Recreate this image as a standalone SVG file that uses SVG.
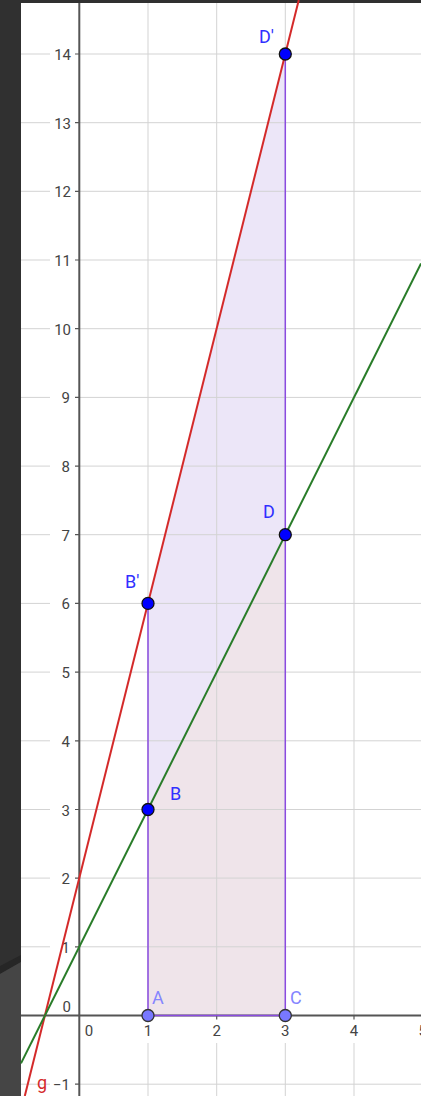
<svg xmlns="http://www.w3.org/2000/svg" width="421" height="1096" viewBox="0 0 421 1096">
<style>
.grid{stroke:#d3d3d3;stroke-width:1;fill:none}
.axis{stroke:#555;stroke-width:2;fill:none}
.tick{font-family:Roboto,"Liberation Sans",sans-serif;font-size:15px;fill:#444}
.ty{text-anchor:end}
.tx{text-anchor:middle}
.plbl{font-family:Roboto,"Liberation Sans",sans-serif;font-size:18px;fill:#3030ff}
.plbl2{font-family:Roboto,"Liberation Sans",sans-serif;font-size:18px;fill:#8585ff}
.pt{fill:#0000ff;stroke:#111;stroke-width:1.3}
.pt2{fill:#7878ff;stroke:#333;stroke-width:1.3}
.edge{stroke:#8a4be0;stroke-width:1.5;fill:none}
</style>
<rect x="0" y="0" width="421" height="1096" fill="#ffffff"/>
<g id="background">
<rect x="0" y="0" width="21" height="1096" fill="#303030"/>
<rect x="0" y="0" width="421" height="3" fill="#303030"/>
<polygon points="0,966 21,955 21,962 0,974" fill="#262626"/>
<polygon points="0,974 21,962 21,1096 0,1096" fill="#454545"/>
</g>
<g id="fills">
<polygon points="148,1015.5 285.3,1015.5 285.3,54 148,603.4" fill="#ece6f8"/>
<polygon points="148,1015.5 285.3,1015.5 285.3,534.7 148,809.5" fill="#efe4ea"/>
</g>
<g id="grid">
<path class="grid" d="M21,1084.2H50M21,946.8H50M79,946.8H421M21,878.1H50M79,878.1H421M21,809.5H50M79,809.5H421M21,740.8H50M79,740.8H421M21,672.1H50M79,672.1H421M21,603.4H50M79,603.4H421M21,534.7H50M79,534.7H421M21,466.1H50M79,466.1H421M21,397.4H50M79,397.4H421M21,328.7H50M79,328.7H421M21,260H50M79,260H421M21,191.3H50M79,191.3H421M21,122.7H50M79,122.7H421M21,54H50M79,54H421M79,1084.2H421"/>
<path class="grid" d="M148,3V1015M148,1043V1096M216.7,3V1015M216.7,1043V1096M285.3,3V1015M285.3,1043V1096M354,3V1015M354,1043V1096"/>
</g>
<g id="axes">
<path class="axis" d="M21,1015.5H421M79.3,3V1096"/>
<path d="M75,1084.2H79M75,946.8H79M75,878.1H79M75,809.5H79M75,740.8H79M75,672.1H79M75,603.4H79M75,534.7H79M75,466.1H79M75,397.4H79M75,328.7H79M75,260H79M75,191.3H79M75,122.7H79M75,54H79M148,1015.5V1019.5M216.7,1015.5V1019.5M285.3,1015.5V1019.5M354,1015.5V1019.5" stroke="#555" stroke-width="1.2"/>
</g>
<g id="tick-labels">
<text class="tick ty" x="71" y="60">14</text>
<text class="tick ty" x="71" y="128.7">13</text>
<text class="tick ty" x="71" y="197.3">12</text>
<text class="tick ty" x="71" y="266">11</text>
<text class="tick ty" x="71" y="334.7">10</text>
<text class="tick ty" x="70" y="403.4">9</text>
<text class="tick ty" x="70" y="472.1">8</text>
<text class="tick ty" x="70" y="540.7">7</text>
<text class="tick ty" x="70" y="609.4">6</text>
<text class="tick ty" x="70" y="678.1">5</text>
<text class="tick ty" x="70" y="746.8">4</text>
<text class="tick ty" x="70" y="815.5">3</text>
<text class="tick ty" x="70" y="884.1">2</text>
<text class="tick ty" x="70" y="952.8">1</text>
<text class="tick ty" x="71" y="1012">0</text>
<text class="tick ty" x="70" y="1090">−1</text>
<text class="tick tx" x="89" y="1036">0</text>
<text class="tick tx" x="148" y="1036">1</text>
<text class="tick tx" x="216.7" y="1036">2</text>
<text class="tick tx" x="285.3" y="1036">3</text>
<text class="tick tx" x="354" y="1036">4</text>
<text class="tick tx" x="422.7" y="1036">5</text>
</g>
<g id="connectors">
<line id="edge-AB" class="edge" x1="148" y1="1015.5" x2="148" y2="603.4"/>
<line id="edge-CD" class="edge" x1="285.3" y1="1015.5" x2="285.3" y2="54"/>
<line id="edge-AC" class="edge" x1="148" y1="1015.5" x2="285.3" y2="1015.5"/>
<line id="line-g" x1="298.8" y1="0" x2="24.8" y2="1096" stroke="#d42a2a" stroke-width="2"/>
<line id="line-f" x1="21" y1="1063.4" x2="421" y2="263.4" stroke="#2a7d2a" stroke-width="2"/>
</g>
<g id="label-g"><text x="37" y="1089" font-family="Roboto,'Liberation Sans',sans-serif" font-size="18" fill="#d42a2a">g</text></g>
<g id="node-A"><circle class="pt2" cx="148" cy="1015.5" r="6"/><text class="plbl2" x="152" y="1004">A</text></g>
<g id="node-C"><circle class="pt2" cx="285.3" cy="1015.5" r="6"/><text class="plbl2" x="290" y="1004">C</text></g>
<g id="node-B"><circle class="pt" cx="148" cy="809.5" r="6"/><text class="plbl" x="170" y="800">B</text></g>
<g id="node-D"><circle class="pt" cx="285.3" cy="534.7" r="6"/><text class="plbl" x="263" y="518">D</text></g>
<g id="node-B1"><circle class="pt" cx="148" cy="603.4" r="6"/><text class="plbl" x="125" y="588">B'</text></g>
<g id="node-D1"><circle class="pt" cx="285.3" cy="54" r="6"/><text class="plbl" x="259" y="43">D'</text></g>
</svg>
